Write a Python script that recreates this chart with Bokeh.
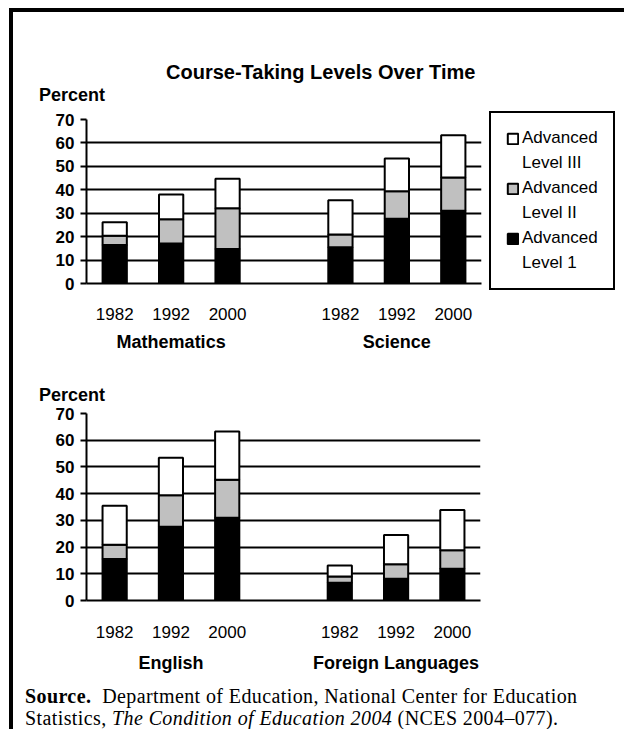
from bokeh.plotting import figure
from bokeh.models import (FactorRange, Legend, LegendItem, ColumnDataSource, FixedTicker,
                          Range1d, CategoricalAxis, Div)
from bokeh.layouts import column
from bokeh.embed import file_html
from bokeh.resources import INLINE

# ---------------- data ----------------
years = ["1982", "1992", "2000"]
subjects_top = ["Mathematics", "Science"]
subjects_bottom = ["English", "Foreign Languages"]
legend_line1 = "Advanced"
legend_line2 = ["Level 1", "Level II", "Level III"]

# order: Math 1982, 1992, 2000, Science 1982, 1992, 2000
top_level1 = [16.4, 17.1, 14.7, 15.5, 27.6, 31.0]
top_level2 = [4.0, 10.3, 17.4, 5.4, 11.8, 14.2]
top_level3 = [5.7, 10.6, 12.6, 14.6, 14.0, 18.1]
# order: English 1982, 1992, 2000, Foreign Languages 1982, 1992, 2000
bot_level1 = [15.5, 27.6, 31.0, 6.6, 8.1, 11.9]
bot_level2 = [5.4, 11.8, 14.2, 2.4, 5.5, 6.9]
bot_level3 = [14.6, 14.0, 18.1, 4.1, 10.9, 15.1]

y_ticks = [0, 10, 20, 30, 40, 50, 60, 70]

title_text = "Course-Taking Levels Over Time"
ylabel_text = "Percent"
source_html = ("<b>Source.</b>&nbsp; Department of Education, National Center for Education<br>"
               "Statistics, <i>The Condition of Education 2004</i> (NCES 2004\u2013077).")

FILLS = ["black", "#c0c0c0", "white"]
SANS = "Liberation Sans"
SERIF = "Liberation Serif"
ZW = "\u200b"   # zero-width marker keeps the second group's year factors distinct
GAP = " "       # empty slot between the two subject groups
W = 611


def span(text, left, top, size):
    return (f'<span style="position:absolute;left:{left}px;top:{top}px;font-size:{size}px;'
            f'line-height:{size}px;white-space:nowrap;">{text}</span>')


def header(spans, height):
    html = (f'<div style="position:relative;width:{W}px;height:{height}px;'
            f"font-family:'{SANS}';font-weight:bold;color:black;\">" + "".join(spans) + "</div>")
    return Div(text=html, width=W, height=height, margin=(0, 0, 0, 0))


def make_chart(subjects, l1, l2, l3, fw, fh, left, top, bottom, right, s1, s2):
    keys = years + [y + ZW for y in years]
    factors = keys[:3] + [GAP] + keys[3:]
    src = ColumnDataSource(dict(x=keys, l1=l1, l2=l2, l3=l3))
    p = figure(x_range=FactorRange(*factors, range_padding=0.0),
               y_range=Range1d(0, 70), frame_width=fw, frame_height=fh,
               min_border_left=left, min_border_top=top, min_border_bottom=bottom,
               min_border_right=right, output_backend="svg", toolbar_location=None)
    # subject labels: second categorical axis, centred under each group of three
    p.extra_x_ranges = {"subj": FactorRange(*subjects, factor_padding=3.0,
                                            range_padding=0.4)}
    rs = p.vbar_stack(["l1", "l2", "l3"], x="x", width=0.43, fill_color=FILLS,
                      line_color="black", line_width=2, source=src)
    p.outline_line_color = None
    p.xgrid.grid_line_color = None
    p.ygrid.grid_line_color = "black"
    p.ygrid.grid_line_width = 2
    p.ygrid.ticker = FixedTicker(ticks=y_ticks)

    ya = p.yaxis[0]
    ya.ticker = FixedTicker(ticks=y_ticks)
    ya.axis_line_width = 2
    ya.major_tick_line_width = 2
    ya.major_tick_out = 6
    ya.major_tick_in = 0
    ya.minor_tick_line_color = None
    ya.major_label_standoff = 6
    ya.major_label_text_font = SANS
    ya.major_label_text_font_style = "bold"
    ya.major_label_text_font_size = "17px"
    ya.major_label_text_color = "black"

    xa = p.xaxis[0]
    xa.axis_line_width = 2
    xa.major_tick_line_color = None
    xa.major_tick_out = 0
    xa.major_tick_in = 0
    xa.major_label_standoff = s1
    xa.major_label_text_font = SANS
    xa.major_label_text_font_size = "17px"
    xa.major_label_text_color = "black"

    sa = CategoricalAxis(x_range_name="subj", axis_line_color=None, major_tick_line_color=None,
                         major_tick_out=0, major_tick_in=0, major_label_standoff=s2,
                         major_label_text_font=SANS, major_label_text_font_style="bold",
                         major_label_text_font_size="18px", major_label_text_color="black")
    p.add_layout(sa, "below")
    return p, rs


# ---------------- top chart ----------------
head1 = header([span(title_text, 153, 50, 20), span(ylabel_text, 26, 74, 18)], 97)
p1, rs1 = make_chart(subjects_top, top_level1, top_level2, top_level3,
                     395, 164, 69, 10, 77, 147, 21, 5)

# legend: each entry is "Advanced" (with its swatch) followed by its level line
items = []
for idx in (2, 1, 0):
    items.append(LegendItem(label=legend_line1, renderers=[rs1[idx]]))
    items.append(LegendItem(label=legend_line2[idx], renderers=[]))
legend = Legend(items=items, location=(8, -7), border_line_color="black",
                border_line_width=2, border_line_alpha=1.0,
                label_text_font=SANS, label_text_font_size="17px", label_text_color="black",
                glyph_width=13, glyph_height=13, label_height=20, label_standoff=3,
                padding=15, spacing=5, margin=0, background_fill_alpha=1.0)
p1.add_layout(legend, "right")

# ---------------- bottom chart ----------------
head2 = header([span(ylabel_text, 26, 26, 18)], 43)
p2, rs2 = make_chart(subjects_bottom, bot_level1, bot_level2, bot_level3,
                     394, 187, 73, 10, 72, 144, 22, 8)

note = Div(text=source_html, width=W, height=56, margin=(0, 0, 0, 0),
           styles={"font-family": SERIF, "font-size": "20px", "line-height": "22px",
                   "letter-spacing": "0.4px", "color": "black", "padding-left": "12px",
                   "padding-top": "10px", "white-space": "nowrap", "box-sizing": "border-box"})

layout = column(head1, p1, head2, p2, note, spacing=0,
                styles={"margin-top": "8px", "margin-left": "9px",
                        "border-left": "4px solid black", "border-top": "4px solid black"})

open("out.html", "w").write(file_html(layout, INLINE))
